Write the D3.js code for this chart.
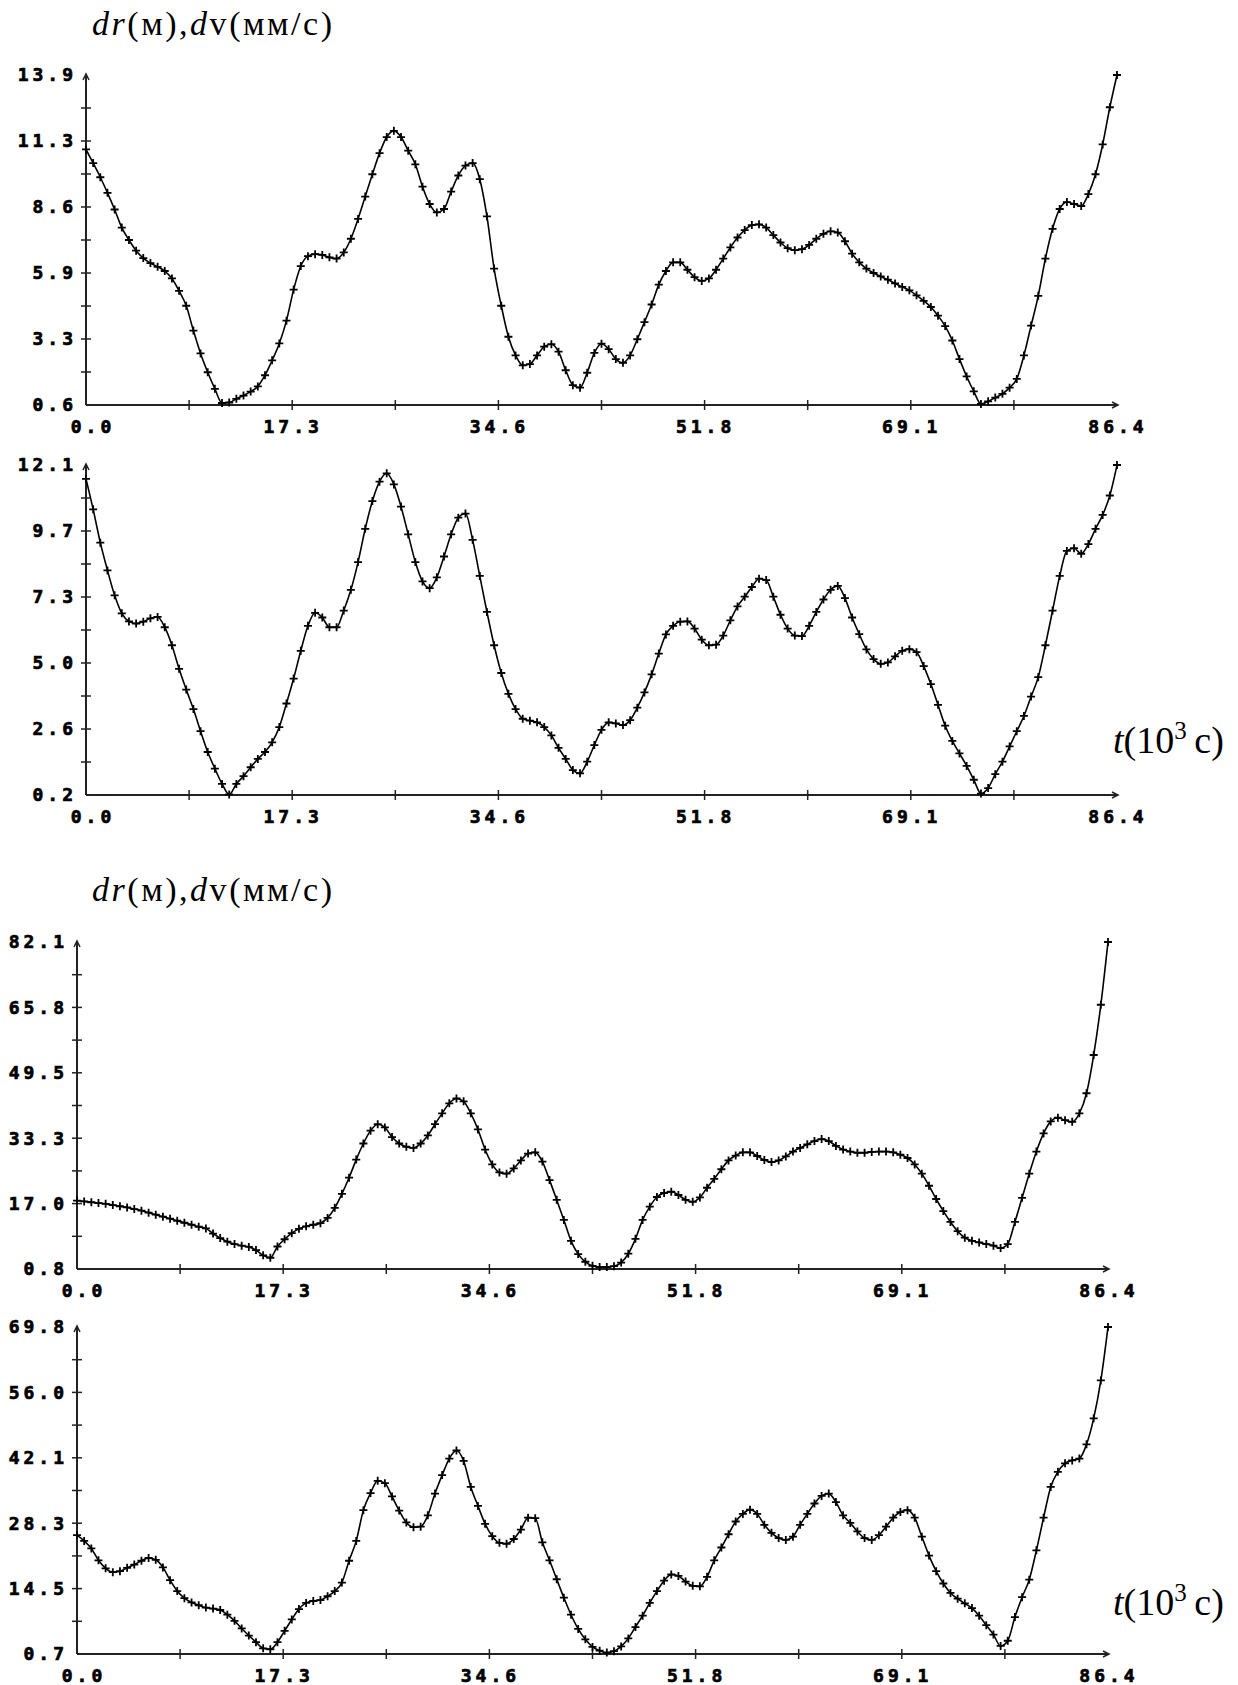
<!DOCTYPE html>
<html>
<head>
<meta charset="utf-8">
<script src="https://cdn.jsdelivr.net/npm/d3@7"></script>
<style>
  body { margin: 0; background: #fff; }
  svg { display: block; }
</style>
</head>
<body>
<div id="chart"></div>
<script>
// time grid, thousands of seconds (one point every 0.6)
var tStep = 0.6;
var time = d3.range(145).map(function(i) { return +(i * tStep).toFixed(1); });

var xLabels = ["0.0", "17.3", "34.6", "51.8", "69.1", "86.4"];

// figure 1
var yLabels1 = ["0.6", "3.3", "5.9", "8.6", "11.3", "13.9"];
var series1 = [
  10.9, 10.35, 9.78, 9.15, 8.48, 7.75, 7.25, 6.82, 6.52, 6.32,
  6.17, 6.0, 5.7, 5.2, 4.6, 3.6, 2.68, 1.92, 1.25, 0.68,
  0.7, 0.85, 0.98, 1.14, 1.35, 1.8, 2.4, 3.08, 4.0, 5.25,
  6.2, 6.6, 6.68, 6.65, 6.55, 6.5, 6.75, 7.3, 8.1, 9.0,
  9.9, 10.75, 11.4, 11.65, 11.4, 10.85, 10.3, 9.4, 8.7, 8.36,
  8.5, 9.2, 9.85, 10.25, 10.35, 9.7, 8.2, 6.1, 4.6, 3.35,
  2.6, 2.2, 2.25, 2.6, 2.95, 3.05, 2.75, 2.0, 1.4, 1.3,
  1.9, 2.7, 3.07, 2.85, 2.45, 2.3, 2.6, 3.25, 3.94, 4.65,
  5.45, 6.0, 6.35, 6.35, 6.05, 5.75, 5.6, 5.7, 6.05, 6.5,
  6.95, 7.35, 7.65, 7.85, 7.88, 7.75, 7.45, 7.15, 6.92, 6.84,
  6.88, 7.05, 7.3, 7.5, 7.6, 7.55, 7.2, 6.7, 6.35, 6.1,
  5.92, 5.78, 5.65, 5.5, 5.36, 5.22, 5.02, 4.8, 4.55, 4.2,
  3.78, 3.2, 2.45, 1.75, 1.15, 0.64, 0.75, 0.9, 1.05, 1.3,
  1.65, 2.6, 3.8, 5.0, 6.5, 7.7, 8.5, 8.78, 8.7, 8.62,
  9.1, 9.9, 11.1, 12.6, 13.9
];

var yLabels2 = ["0.2", "2.6", "5.0", "7.3", "9.7", "12.1"];
var series2 = [
  11.6, 10.5, 9.3, 8.3, 7.4, 6.75, 6.46, 6.38, 6.45, 6.57,
  6.62, 6.25, 5.6, 4.75, 4.0, 3.3, 2.5, 1.75, 1.15, 0.6,
  0.22, 0.6, 0.88, 1.2, 1.5, 1.75, 2.1, 2.65, 3.5, 4.4,
  5.4, 6.3, 6.77, 6.6, 6.25, 6.25, 6.85, 7.6, 8.6, 9.8,
  10.8, 11.5, 11.8, 11.4, 10.6, 9.6, 8.6, 7.9, 7.66, 8.05,
  8.8, 9.6, 10.2, 10.35, 9.4, 8.1, 6.8, 5.6, 4.6, 3.85,
  3.3, 2.95, 2.88, 2.82, 2.65, 2.35, 1.9, 1.5, 1.1, 0.98,
  1.4, 2.0, 2.55, 2.82, 2.78, 2.72, 2.9, 3.35, 3.9, 4.55,
  5.3, 5.99, 6.3, 6.45, 6.46, 6.2, 5.8, 5.6, 5.62, 5.95,
  6.5, 7.0, 7.35, 7.7, 8.0, 7.95, 7.35, 6.7, 6.2, 5.95,
  5.93, 6.3, 6.8, 7.25, 7.6, 7.74, 7.3, 6.6, 6.0, 5.45,
  5.1, 4.93, 4.98, 5.2, 5.4, 5.46, 5.35, 4.85, 4.2, 3.45,
  2.7, 2.15, 1.7, 1.25, 0.75, 0.25, 0.45, 0.95, 1.4, 1.95,
  2.5, 3.05, 3.75, 4.45, 5.6, 6.85, 8.1, 9.0, 9.1, 8.9,
  9.25, 9.8, 10.3, 11.0, 12.1
];

// figure 2
var yLabels3 = ["0.8", "17.0", "33.3", "49.5", "65.8", "82.1"];
var series3 = [
  17.8, 17.6, 17.4, 17.2, 17.0, 16.7, 16.4, 16.1, 15.7, 15.3,
  14.8, 14.3, 13.8, 13.3, 12.8, 12.3, 11.8, 11.3, 10.9, 9.6,
  8.5, 7.6, 7.0, 6.6, 6.3, 5.5, 4.2, 3.6, 6.4, 8.2,
  9.7, 10.8, 11.4, 11.8, 12.2, 13.5, 16.0, 19.5, 23.5, 28.0,
  32.0, 35.2, 36.8, 36.0, 33.6, 32.0, 31.2, 30.9, 32.0, 34.0,
  36.8, 39.5, 42.0, 43.2, 42.5, 39.5, 35.5, 30.5, 26.8, 24.8,
  24.5, 25.8, 27.8, 29.5, 29.8, 27.5, 22.9, 18.0, 13.0, 7.8,
  4.5, 2.6, 1.6, 1.3, 1.3, 1.5, 2.4, 4.6, 8.3, 13.0,
  16.3, 18.7, 19.7, 20.0, 19.2, 18.0, 17.5, 18.6, 21.0, 23.2,
  25.6, 27.8, 29.0, 29.8, 29.8, 28.9, 27.9, 27.4, 27.8, 28.8,
  30.0, 30.9, 31.8, 32.6, 33.1, 32.6, 31.4, 30.5, 30.0, 29.7,
  29.7, 29.9, 30.0, 30.0, 29.8, 29.2, 28.4, 26.8, 24.5, 21.5,
  18.2, 15.2, 12.5, 10.2, 8.6, 7.8, 7.4, 7.0, 6.6, 6.0,
  7.0, 12.5, 18.5, 24.5, 30.0, 34.5, 37.5, 38.4, 37.8, 37.4,
  39.5, 44.5, 54.0, 66.5, 82.1
];

var yLabels4 = ["0.7", "14.5", "28.3", "42.1", "56.0", "69.8"];
var series4 = [
  25.8, 24.6, 23.0, 20.5, 18.8, 18.0, 18.2, 18.9, 19.6, 20.4,
  21.0, 20.6, 19.0, 16.3, 14.0, 12.5, 11.6, 11.0, 10.5, 10.3,
  10.0, 9.0, 7.7, 6.1, 4.6, 3.2, 1.9, 1.7, 3.2, 5.6,
  8.0, 10.2, 11.5, 11.9, 12.1, 12.9, 14.0, 15.8, 20.4, 24.6,
  31.1, 34.7, 37.3, 36.8, 34.0, 31.0, 28.5, 27.5, 27.6, 30.0,
  34.6, 38.5, 42.0, 43.7, 41.5, 36.0, 32.0, 28.2, 25.6, 24.2,
  24.0, 25.0, 27.0, 29.5, 29.4, 24.3, 20.5, 16.5, 12.6, 9.0,
  6.0, 3.8, 2.2, 1.4, 1.0, 1.3, 2.3, 4.0, 6.4, 8.8,
  11.5, 14.0, 16.2, 17.5, 17.2, 16.0, 15.1, 15.0, 17.0, 20.5,
  23.2, 26.0, 28.7, 30.3, 31.2, 30.3, 28.0, 26.3, 25.2, 24.8,
  25.5, 28.0, 30.3, 32.5, 34.1, 34.6, 32.8, 30.0, 28.4, 26.6,
  25.2, 24.8, 25.8, 27.6, 29.5, 30.7, 31.1, 29.5, 25.5, 21.5,
  18.2, 15.6, 13.6, 12.4, 11.4, 10.4, 8.8, 6.8, 4.8, 2.4,
  3.5, 8.5, 12.7, 16.4, 22.6, 29.5, 36.0, 39.2, 41.0, 41.6,
  42.0, 45.0, 50.5, 58.5, 69.8
];

var W = 1238, H = 1685;

var svg = d3.select("#chart").append("svg")
  .attr("width", W)
  .attr("height", H)
  .style("background", "#fff");

// draw one panel
function drawPanel(values, yLabels, box) {
  var yMin = +yLabels[0], yMax = +yLabels[yLabels.length - 1];

  var x = d3.scaleLinear().domain([0, 86.4]).range([box.left, box.right]);
  var y = d3.scaleLinear().domain([yMin, yMax]).range([box.bottom, box.top]);

  var g = svg.append("g");
  var axisColor = "#222";

  // axes lines
  g.append("line")
    .attr("x1", x(0)).attr("x2", x(86.4) + 1)
    .attr("y1", y(yMin)).attr("y2", y(yMin))
    .attr("stroke", axisColor).attr("stroke-width", 2);
  g.append("line")
    .attr("x1", x(0)).attr("x2", x(0))
    .attr("y1", y(yMin)).attr("y2", y(yMax) - 1)
    .attr("stroke", axisColor).attr("stroke-width", 2);

  // arrow heads
  g.append("path")
    .attr("d", "M" + (x(86.4) - 5) + "," + (y(yMin) - 3) + "L" + (x(86.4) + 1) + "," + y(yMin) +
               "L" + (x(86.4) - 5) + "," + (y(yMin) + 3))
    .attr("fill", "none").attr("stroke", axisColor).attr("stroke-width", 1.5);
  g.append("path")
    .attr("d", "M" + (x(0) - 3) + "," + (y(yMax) + 5) + "L" + x(0) + "," + (y(yMax) - 1) +
               "L" + (x(0) + 3) + "," + (y(yMax) + 5))
    .attr("fill", "none").attr("stroke", axisColor).attr("stroke-width", 1.5);

  // ticks: 10 steps per axis, label every other one
  var ySteps = d3.range(1, 10).map(function(k) { return yMin + k * (yMax - yMin) / 10; });
  g.selectAll(".ytick").data(ySteps).enter().append("line")
    .attr("x1", x(0) - 5).attr("x2", x(0) + 5)
    .attr("y1", function(d) { return y(d); })
    .attr("y2", function(d) { return y(d); })
    .attr("stroke", axisColor).attr("stroke-width", 1.5);

  var xSteps = d3.range(1, 10).map(function(k) { return k * 86.4 / 10; });
  g.selectAll(".xtick").data(xSteps).enter().append("line")
    .attr("x1", function(d) { return x(d); })
    .attr("x2", function(d) { return x(d); })
    .attr("y1", y(yMin) - 5).attr("y2", y(yMin) + 5)
    .attr("stroke", axisColor).attr("stroke-width", 1.5);

  var labelFont = "'DejaVu Sans Mono', 'Liberation Mono', monospace";

  g.selectAll(".ylab").data(yLabels).enter().append("text")
    .attr("x", x(0) - 9)
    .attr("y", function(d, i) { return y(yMin + i * (yMax - yMin) / 5); })
    .attr("dy", "0.36em")
    .attr("text-anchor", "end")
    .attr("font-family", labelFont)
    .attr("font-weight", "bold")
    .attr("font-size", 18)
    .attr("letter-spacing", 4)
    .attr("fill", "#000")
    .attr("stroke", "#000")
    .attr("stroke-width", 0.7)
    .text(function(d) { return d; });

  g.selectAll(".xlab").data(xLabels).enter().append("text")
    .attr("x", function(d, i) { return x(i * 86.4 / 5) + (i === 0 ? 7 : 1); })
    .attr("y", y(yMin) + 22)
    .attr("dy", "0.36em")
    .attr("text-anchor", "middle")
    .attr("font-family", labelFont)
    .attr("font-weight", "bold")
    .attr("font-size", 18)
    .attr("letter-spacing", 4)
    .attr("fill", "#000")
    .attr("stroke", "#000")
    .attr("stroke-width", 0.7)
    .text(function(d) { return d; });

  // the curve
  var pts = time.map(function(t, i) { return [t, values[i]]; });
  var line = d3.line()
    .x(function(d) { return x(d[0]); })
    .y(function(d) { return y(d[1]); })
    .curve(d3.curveMonotoneX);

  g.append("path")
    .attr("d", line(pts))
    .attr("fill", "none")
    .attr("stroke", "#000")
    .attr("stroke-width", 1.6);

  // plus markers
  g.selectAll(".mk").data(pts).enter().append("path")
    .attr("transform", function(d) { return "translate(" + x(d[0]) + "," + y(d[1]) + ")"; })
    .attr("d", "M-4,0H4M0,-4V4")
    .attr("stroke", "#000")
    .attr("stroke-width", 1.8);
}

drawPanel(series1, yLabels1, {left: 86, right: 1117, top: 75, bottom: 405});
drawPanel(series2, yLabels2, {left: 86, right: 1117, top: 465, bottom: 795});
drawPanel(series3, yLabels3, {left: 77, right: 1108, top: 942, bottom: 1269});
drawPanel(series4, yLabels4, {left: 77, right: 1108, top: 1327, bottom: 1654});

// axis titles
var serif = "'Liberation Serif', 'Times New Roman', serif";

function yTitle(yPos) {
  var t = svg.append("text")
    .attr("x", 92).attr("y", yPos)
    .attr("font-family", serif)
    .attr("font-size", 34)
    .attr("textLength", 240)
    .attr("lengthAdjust", "spacing")
    .attr("fill", "#000");
  t.append("tspan").attr("font-style", "italic").text("dr");
  t.append("tspan").text("(м),");
  t.append("tspan").attr("font-style", "italic").text("d");
  t.append("tspan").text("v(мм/с)");
}

function tTitle(yPos) {
  var t = svg.append("text")
    .attr("x", 1113).attr("y", yPos)
    .attr("font-family", serif)
    .attr("font-size", 38)
    .attr("fill", "#000");
  t.append("tspan").attr("font-style", "italic").text("t");
  t.append("tspan").text("(10");
  t.append("tspan").attr("font-size", 25).attr("dy", -14).text("3");
  t.append("tspan").attr("dy", 14).text("\u2009c)");
}

yTitle(35);
yTitle(901);
tTitle(753);
tTitle(1615);
</script>
</body>
</html>
